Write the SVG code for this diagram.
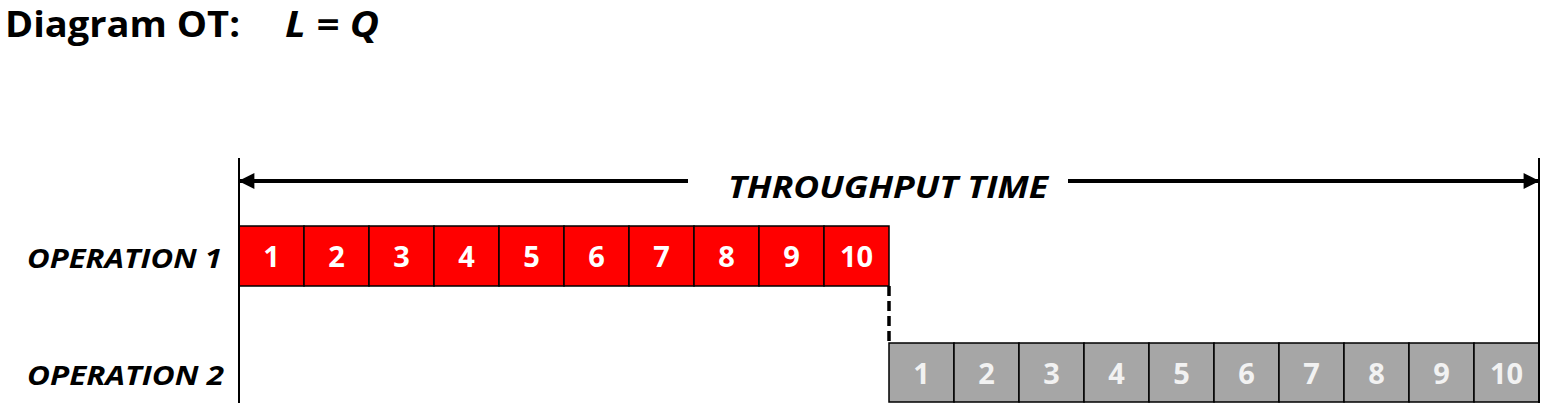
<svg xmlns="http://www.w3.org/2000/svg" width="1548" height="410" viewBox="0 0 1548 410">
<defs>
<style>
.t{font-family:"Open Sans","Liberation Sans",sans-serif;font-weight:bold;}
.lbl{font-family:"Open Sans","Liberation Sans",sans-serif;font-weight:bold;font-style:italic;font-size:27px;fill:#000;}
.n{font-family:"Open Sans","Liberation Sans",sans-serif;font-weight:bold;font-size:29px;text-anchor:middle;}
.red rect{fill:#ff0000;stroke:#000;stroke-width:1.5;}
.red text{fill:#fff;}
.gray rect{fill:#a6a6a6;stroke:#000;stroke-width:1.5;}
.gray text{fill:#f2f2f2;}
.axis{stroke:#000;stroke-width:2;fill:none;}
.arr{stroke:#000;stroke-width:4;fill:none;}
</style>
<marker id="ah" viewBox="0 0 10 10" refX="9" refY="5" markerWidth="4.2" markerHeight="4" markerUnits="strokeWidth" orient="auto-start-reverse">
<path d="M0,0 L10,5 L0,10 z" fill="#000"/>
</marker>
</defs>
<rect width="1548" height="410" fill="#fff"/>
<g id="title">
<text class="t" x="5" y="37" font-size="35" textLength="235" lengthAdjust="spacingAndGlyphs">Diagram OT:</text>
<text class="t" x="285" y="37" font-size="35" font-style="italic" textLength="94" lengthAdjust="spacingAndGlyphs">L = Q</text>
</g>
<g id="labels">
<text class="lbl" x="27" y="268" textLength="195" lengthAdjust="spacingAndGlyphs">OPERATION 1</text>
<text class="lbl" x="27" y="385" textLength="197" lengthAdjust="spacingAndGlyphs">OPERATION 2</text>
</g>
<g id="operation1" class="red">
<rect x="239" y="226" width="65" height="60"/><text class="n" x="271.5" y="267">1</text>
<rect x="304" y="226" width="65" height="60"/><text class="n" x="336.5" y="267">2</text>
<rect x="369" y="226" width="65" height="60"/><text class="n" x="401.5" y="267">3</text>
<rect x="434" y="226" width="65" height="60"/><text class="n" x="466.5" y="267">4</text>
<rect x="499" y="226" width="65" height="60"/><text class="n" x="531.5" y="267">5</text>
<rect x="564" y="226" width="65" height="60"/><text class="n" x="596.5" y="267">6</text>
<rect x="629" y="226" width="65" height="60"/><text class="n" x="661.5" y="267">7</text>
<rect x="694" y="226" width="65" height="60"/><text class="n" x="726.5" y="267">8</text>
<rect x="759" y="226" width="65" height="60"/><text class="n" x="791.5" y="267">9</text>
<rect x="824" y="226" width="65" height="60"/><text class="n" x="856.5" y="267">10</text>
</g>
<g id="operation2" class="gray">
<rect x="889" y="343" width="65" height="59"/><text class="n" x="921.5" y="384">1</text>
<rect x="954" y="343" width="65" height="59"/><text class="n" x="986.5" y="384">2</text>
<rect x="1019" y="343" width="65" height="59"/><text class="n" x="1051.5" y="384">3</text>
<rect x="1084" y="343" width="65" height="59"/><text class="n" x="1116.5" y="384">4</text>
<rect x="1149" y="343" width="65" height="59"/><text class="n" x="1181.5" y="384">5</text>
<rect x="1214" y="343" width="65" height="59"/><text class="n" x="1246.5" y="384">6</text>
<rect x="1279" y="343" width="65" height="59"/><text class="n" x="1311.5" y="384">7</text>
<rect x="1344" y="343" width="65" height="59"/><text class="n" x="1376.5" y="384">8</text>
<rect x="1409" y="343" width="65" height="59"/><text class="n" x="1441.5" y="384">9</text>
<rect x="1474" y="343" width="65" height="59"/><text class="n" x="1506.5" y="384">10</text>
</g>
<g id="connectors">
<line class="axis" x1="239" y1="158" x2="239" y2="403"/>
<line class="axis" x1="1539" y1="158" x2="1539" y2="403"/>
<line x1="889" y1="286" x2="889" y2="343" stroke="#000" stroke-width="3.5" stroke-dasharray="10,5"/>
<line class="arr" x1="688" y1="181" x2="240" y2="181" marker-end="url(#ah)"/>
<line class="arr" x1="1068" y1="181" x2="1538" y2="181" marker-end="url(#ah)"/>
<text class="t" x="728" y="198" font-size="31" font-style="italic" textLength="320" lengthAdjust="spacingAndGlyphs">THROUGHPUT TIME</text>
</g>
</svg>
